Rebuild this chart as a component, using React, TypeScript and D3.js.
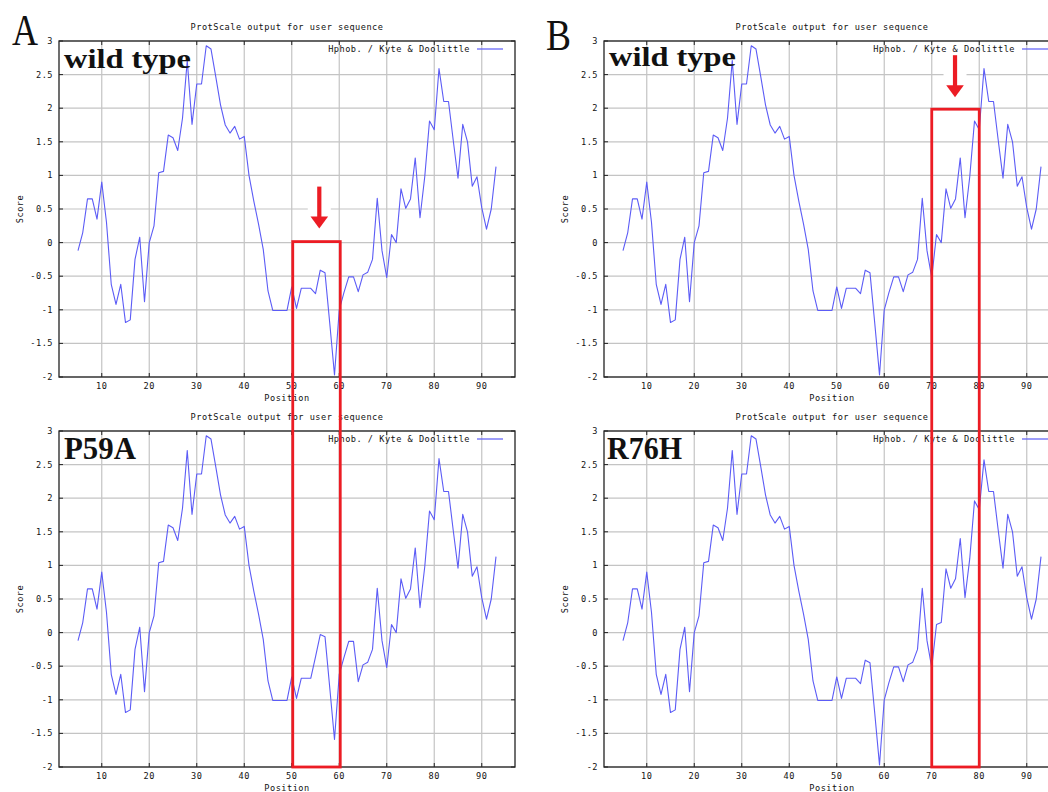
import React from 'react';
import * as d3 from 'd3';

// ---------- data ----------
const positions = [
  5, 6, 7, 8, 9, 10, 11, 12, 13, 14, 15, 16, 17, 18, 19, 20, 21, 22, 23, 24,
  25, 26, 27, 28, 29, 30, 31, 32, 33, 34, 35, 36, 37, 38, 39, 40, 41, 42, 43, 44,
  45, 46, 47, 48, 49, 50, 51, 52, 53, 54, 55, 56, 57, 58, 59, 60, 61, 62, 63, 64,
  65, 66, 67, 68, 69, 70, 71, 72, 73, 74, 75, 76, 77, 78, 79, 80, 81, 82, 83, 84,
  85, 86, 87, 88, 89, 90, 91, 92, 93,
];

const wildType = [
  -0.12, 0.15, 0.65, 0.65, 0.35, 0.9, 0.3, -0.62, -0.92, -0.62, -1.19, -1.15, -0.25, 0.08, -0.88, 0.0, 0.25, 1.04, 1.06, 1.6,
  1.56, 1.37, 1.85, 2.71, 1.76, 2.36, 2.36, 2.93, 2.88, 2.47, 2.05, 1.75, 1.63, 1.73, 1.54, 1.58, 1.0, 0.62, 0.28, -0.1,
  -0.72, -1.01, -1.01, -1.01, -1.01, -0.66, -0.98, -0.68, -0.68, -0.68, -0.76, -0.41, -0.45, -1.2, -1.97, -1.0, -0.74, -0.51, -0.51, -0.73,
  -0.48, -0.44, -0.25, 0.66, -0.12, -0.52, 0.12, 0.0, 0.8, 0.51, 0.65, 1.26, 0.37, 0.98, 1.81, 1.68, 2.59, 2.1, 2.1, 1.52,
  0.96, 1.76, 1.5, 0.84, 0.98, 0.52, 0.2, 0.5, 1.13,
];

const p59a = [
  -0.12, 0.15, 0.65, 0.65, 0.35, 0.9, 0.3, -0.62, -0.92, -0.62, -1.19, -1.15, -0.25, 0.08, -0.88, 0.0, 0.25, 1.04, 1.06, 1.6,
  1.56, 1.37, 1.85, 2.71, 1.76, 2.36, 2.36, 2.93, 2.88, 2.47, 2.05, 1.75, 1.63, 1.73, 1.54, 1.58, 1.0, 0.62, 0.28, -0.1,
  -0.72, -1.01, -1.01, -1.01, -1.01, -0.66, -0.98, -0.68, -0.68, -0.68, -0.36, -0.03, -0.06, -0.82, -1.59, -0.62, -0.37, -0.13, -0.13, -0.73,
  -0.48, -0.44, -0.25, 0.66, -0.12, -0.52, 0.12, 0.0, 0.8, 0.51, 0.65, 1.26, 0.37, 0.98, 1.81, 1.68, 2.59, 2.1, 2.1, 1.52,
  0.96, 1.76, 1.5, 0.84, 0.98, 0.52, 0.2, 0.5, 1.13,
];

const r76h = [
  -0.12, 0.15, 0.65, 0.65, 0.35, 0.9, 0.3, -0.62, -0.92, -0.62, -1.19, -1.15, -0.25, 0.08, -0.88, 0.0, 0.25, 1.04, 1.06, 1.6,
  1.56, 1.37, 1.85, 2.71, 1.76, 2.36, 2.36, 2.93, 2.88, 2.47, 2.05, 1.75, 1.63, 1.73, 1.54, 1.58, 1.0, 0.62, 0.28, -0.1,
  -0.72, -1.01, -1.01, -1.01, -1.01, -0.66, -0.98, -0.68, -0.68, -0.68, -0.76, -0.41, -0.45, -1.2, -1.97, -1.0, -0.74, -0.51, -0.51, -0.73,
  -0.48, -0.44, -0.25, 0.66, -0.12, -0.52, 0.12, 0.15, 0.95, 0.66, 0.8, 1.4, 0.52, 1.1, 1.96, 1.83, 2.57, 2.1, 2.1, 1.52,
  0.96, 1.76, 1.5, 0.84, 0.98, 0.52, 0.2, 0.5, 1.13,
];

const xTickValues = [10, 20, 30, 40, 50, 60, 70, 80, 90];
const yTickValues = [-2, -1.5, -1, -0.5, 0, 0.5, 1, 1.5, 2, 2.5, 3];
const xDomain = [1, 97];
const yDomain = [-2, 3];
const titleText = 'ProtScale output for user sequence';
const legendText = 'Hphob. / Kyte & Doolittle';
const xLabel = 'Position';
const yLabel = 'Score';

// ---------- styles ----------
const MONO = '"DejaVu Sans Mono", "Liberation Mono", monospace';
const SERIF = '"Liberation Serif", "DejaVu Serif", serif';
const LINE_COLOR = '#5c5cf6';
const GRID_COLOR = '#c4c4c4';
const RED = '#ec1c24';
const W = 1048;
const H = 792;

const monoText = {
  fontFamily: MONO,
  fontSize: 8.6,
  letterSpacing: 0.5,
  fill: '#111',
} as const;

function makeScales(ox: number, oy: number) {
  const x = d3.scaleLinear().domain(xDomain).range([59 + ox, 515 + ox]);
  const y = d3.scaleLinear().domain(yDomain).range([377 + oy, 41 + oy]);
  return { x, y };
}

type PanelProps = {
  ox: number;
  oy: number;
  values: number[];
  tag: string;
  tagX: number;
  tagY: number;
  tagSize: number;
  tagLen: number;
};

function Panel({ ox, oy, values, tag, tagX, tagY, tagSize, tagLen }: PanelProps) {
  const { x, y } = makeScales(ox, oy);
  const [x0, x1] = x.range();
  const [y0, y1] = y.range();
  const line = d3
    .line<number>()
    .x((_, i) => x(positions[i]))
    .y((d) => y(d));
  const cx = (x0 + x1) / 2;
  const cy = (y0 + y1) / 2;
  return (
    <g>
      {/* grid */}
      {xTickValues.map((t) => (
        <line key={'gx' + t} x1={x(t)} x2={x(t)} y1={y1} y2={y0} stroke={GRID_COLOR} strokeWidth={1.2} />
      ))}
      {yTickValues.map((t) => (
        <line key={'gy' + t} x1={x0} x2={x1} y1={y(t)} y2={y(t)} stroke={GRID_COLOR} strokeWidth={1.2} />
      ))}
      {/* ticks (mirrored) */}
      {xTickValues.map((t) => (
        <g key={'tx' + t}>
          <line x1={x(t)} x2={x(t)} y1={y0} y2={y0 - 4} stroke="#222" strokeWidth={1} />
          <line x1={x(t)} x2={x(t)} y1={y1} y2={y1 + 4} stroke="#222" strokeWidth={1} />
        </g>
      ))}
      {yTickValues.map((t) => (
        <g key={'ty' + t}>
          <line x1={x0} x2={x0 + 4} y1={y(t)} y2={y(t)} stroke="#222" strokeWidth={1} />
          <line x1={x1} x2={x1 - 4} y1={y(t)} y2={y(t)} stroke="#222" strokeWidth={1} />
        </g>
      ))}
      {/* border */}
      <rect x={x0} y={y1} width={x1 - x0} height={y0 - y1} fill="none" stroke="#222" strokeWidth={1.3} />
      {/* tick labels */}
      {xTickValues.map((t) => (
        <text key={'lx' + t} x={x(t)} y={y0 + 12} textAnchor="middle" style={monoText}>
          {t}
        </text>
      ))}
      {yTickValues.map((t) => (
        <text key={'ly' + t} x={x0 - 6} y={y(t) + 3} textAnchor="end" style={monoText}>
          {String(t)}
        </text>
      ))}
      {/* titles */}
      <text x={cx} y={y1 - 11} textAnchor="middle" style={monoText}>
        {titleText}
      </text>
      <text x={cx} y={y0 + 24} textAnchor="middle" style={monoText}>
        {xLabel}
      </text>
      <text transform={`translate(${x0 - 36},${cy}) rotate(-90)`} textAnchor="middle" style={monoText}>
        {yLabel}
      </text>
      {/* legend */}
      <text x={x1 - 45} y={y1 + 11} textAnchor="end" style={monoText}>
        {legendText}
      </text>
      <line x1={x1 - 38} x2={x1 - 12} y1={y1 + 8} y2={y1 + 8} stroke={LINE_COLOR} strokeWidth={1.2} />
      {/* data */}
      <path d={line(values) ?? ''} fill="none" stroke={LINE_COLOR} strokeWidth={1.1} strokeLinejoin="round" />
      {/* panel tag */}
      <text
        x={tagX}
        y={tagY}
        textLength={tagLen}
        lengthAdjust="spacingAndGlyphs"
        style={{ fontFamily: SERIF, fontWeight: 'bold', fontSize: tagSize, fill: '#111' }}
      >
        {tag}
      </text>
    </g>
  );
}

function Arrow({ cx, tipY }: { cx: number; tipY: number }) {
  const top = tipY - 42;
  const headY = tipY - 12;
  return (
    <g>
      <rect x={cx - 11.5} y={top - 3} width={23} height={tipY - top + 5} fill="#fff" />
      <rect x={cx - 2.1} y={top} width={4.2} height={headY - top + 1} fill={RED} />
      <path d={`M${cx - 8.8},${headY} L${cx + 8.8},${headY} L${cx},${tipY} Z`} fill={RED} />
    </g>
  );
}

export default function App() {
  const dxB = 545;
  const dyLow = 390;
  const A_top = makeScales(0, 0);
  const A_low = makeScales(0, dyLow);
  const B_top = makeScales(dxB, 0);
  const B_low = makeScales(dxB, dyLow);

  const boxA = { x0: A_top.x(50) + 1, x1: A_top.x(60) + 1, top: A_top.y(0) - 1, bottom: A_low.y(-2) };
  const boxB = { x0: B_top.x(70), x1: B_top.x(80), top: B_top.y(2) + 1, bottom: B_low.y(-2) };

  return (
    <svg
      width={W}
      height={H}
      viewBox={`0 0 ${W} ${H}`}
      style={{ position: 'absolute', left: 0, top: 0, background: '#fff', display: 'block' }}
    >
      <rect x={0} y={0} width={W} height={H} fill="#fff" />
      <Panel ox={0} oy={0} values={wildType} tag="wild type" tagX={64} tagY={68} tagSize={28} tagLen={127} />
      <Panel ox={0} oy={dyLow} values={p59a} tag="P59A" tagX={64} tagY={459} tagSize={31} tagLen={72} />
      <Panel ox={dxB} oy={0} values={wildType} tag="wild type" tagX={609} tagY={66} tagSize={28} tagLen={127} />
      <Panel ox={dxB} oy={dyLow} values={r76h} tag="R76H" tagX={607} tagY={459} tagSize={31} tagLen={75} />

      {/* big panel letters */}
      <text x={12} y={45} textLength={26} lengthAdjust="spacingAndGlyphs" style={{ fontFamily: SERIF, fontSize: 44, fill: '#111' }}>
        A
      </text>
      <text x={546} y={50} textLength={25} lengthAdjust="spacingAndGlyphs" style={{ fontFamily: SERIF, fontSize: 44, fill: '#111' }}>
        B
      </text>

      {/* arrows */}
      <Arrow cx={A_top.x(55.8)} tipY={boxA.top - 13} />
      <Arrow cx={B_top.x(74.9)} tipY={boxB.top - 12} />

      {/* red boxes */}
      <rect x={boxA.x0} y={boxA.top} width={boxA.x1 - boxA.x0} height={boxA.bottom - boxA.top} fill="none" stroke={RED} strokeWidth={2.8} />
      <rect x={boxB.x0} y={boxB.top} width={boxB.x1 - boxB.x0} height={boxB.bottom - boxB.top} fill="none" stroke={RED} strokeWidth={2.8} />
    </svg>
  );
}
